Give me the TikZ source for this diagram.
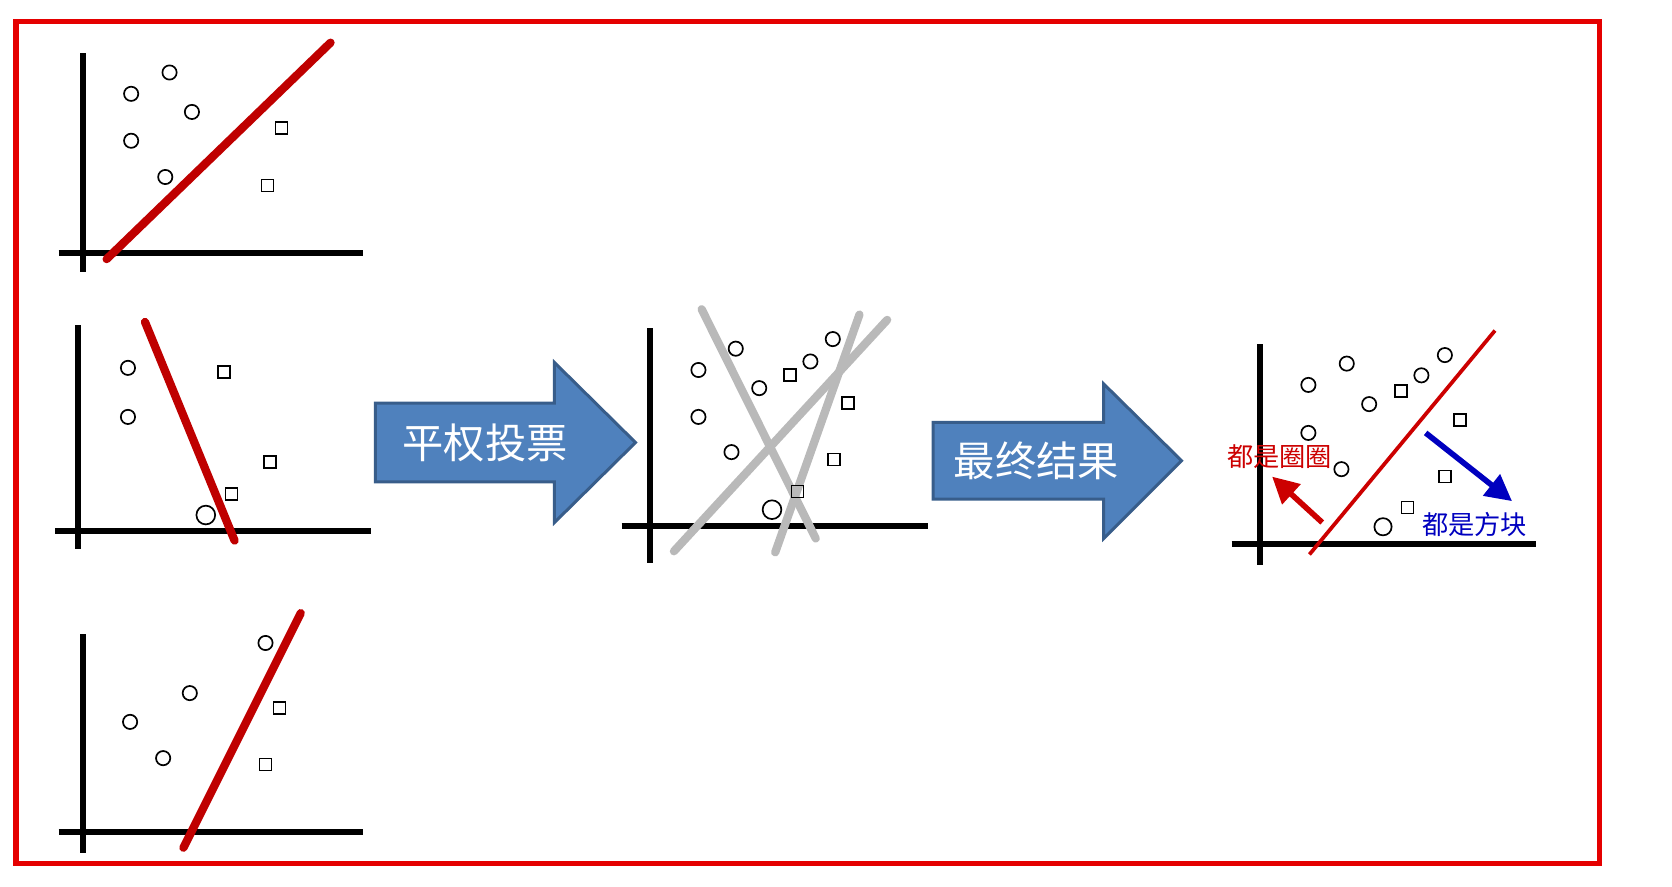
\documentclass[tikz,border=0pt]{standalone}
\usepackage{fontspec}
\newfontfamily\cjk{Noto Sans CJK SC}
\usetikzlibrary{arrows.meta}
\tikzset{
 ax/.style={line width=1.6pt,black},
 sep/.style={red!75!black,line width=2.2pt,line cap=round},
 gl/.style={gray!55,line width=2.2pt,line cap=round},
 cir/.style={circle,draw,line width=0.45pt,minimum size=3.8pt,inner sep=0pt},
 sq/.style={rectangle,draw,line width=0.45pt,minimum size=3.2pt,inner sep=0pt},
 blk/.style={fill={rgb,255:red,79;green,129;blue,189},draw={rgb,255:red,56;green,93;blue,138},line width=0.8pt},
}
\begin{document}
\begin{tikzpicture}[x=0.01cm,y=-0.01cm]
\useasboundingbox (0,0) rectangle (1568,831);
\draw[red!90!black,line width=1.4pt] (15,20) rectangle (1500,810);
% panel 1
\draw[ax] (78,50) -- (78,255); \draw[ax] (55,237) -- (340,237);
\draw[sep] (100,243) -- (310,40);
\foreach \p in {(123,88),(159,68),(180,105),(123,132),(155,166)} \node[cir] at \p {};
\foreach \p in {(264,120),(251,174)} \node[sq] at \p {};
% panel 2
\draw[ax] (73,305) -- (73,515); \draw[ax] (52,498) -- (348,498);
\draw[sep] (136,302) -- (220,507);
\foreach \p in {(120,345),(120,391)} \node[cir] at \p {};
\node[cir,minimum size=5pt] at (193,483) {};
\foreach \p in {(210,349),(253,433),(217,463)} \node[sq] at \p {};
% panel 3
\draw[ax] (78,595) -- (78,800); \draw[ax] (55,780) -- (340,780);
\draw[sep] (172,795) -- (282,575);
\foreach \p in {(249,603),(178,650),(122,677),(153,711)} \node[cir] at \p {};
\foreach \p in {(262,664),(249,717)} \node[sq] at \p {};
% arrow 1
\draw[blk] (352,378) -- (520,378) -- (520,340) -- (596,415) -- (520,490) -- (520,452) -- (352,452) -- cycle;
\node[text=white,font=\cjk\fontsize{11}{13}\selectfont] (a1) at (455,415) {平权投票};
% middle
\draw[ax] (610,308) -- (610,528); \draw[ax] (583,493) -- (870,493);
\draw[gl] (658,290) -- (765,505);
\draw[gl] (632,517) -- (832,300);
\draw[gl] (727,518) -- (806,295);
\foreach \p in {(655,347),(690,327),(712,364),(760,339),(781,318),(655,391),(686,424)} \node[cir] at \p {};
\node[cir,minimum size=5pt] at (724,478) {};
\foreach \p in {(741,352),(795,378),(782,431),(748,461)} \node[sq] at \p {};
% arrow 2
\draw[blk] (875,396) -- (1035,396) -- (1035,360) -- (1108,432) -- (1035,505) -- (1035,468) -- (875,468) -- cycle;
\node[text=white,font=\cjk\fontsize{11}{13}\selectfont] (a2) at (972,432) {最终结果};
% right
\draw[ax] (1182,323) -- (1182,530); \draw[ax] (1155,510) -- (1440,510);
\draw[red!80!black,line width=1pt] (1228,520) -- (1402,310);
\foreach \p in {(1227,361),(1263,341),(1284,379),(1333,352),(1355,333),(1227,406),(1258,440)} \node[cir] at \p {};
\node[cir,minimum size=4.6pt] at (1297,494) {};
\foreach \p in {(1314,367),(1369,394),(1355,447),(1320,476)} \node[sq] at \p {};
\node[text=red!80!black,font=\cjk\fontsize{7}{8}\selectfont] (t1) at (1200,428) {都是圈圈};
\coordinate (r1) at (1240,490);
\draw[red!80!black,line width=1.5pt,-{Triangle[length=7pt,width=7pt]}] (r1) -- (1193,447);
\node[text=blue!75!black,font=\cjk\fontsize{7}{8}\selectfont] (t2) at (1383,492) {都是方块};
\coordinate (b1) at (1337,406);
\draw[blue!75!black,line width=1.5pt,-{Triangle[length=7pt,width=7pt]}] (b1) -- (1418,470);
\end{tikzpicture}
\end{document}
